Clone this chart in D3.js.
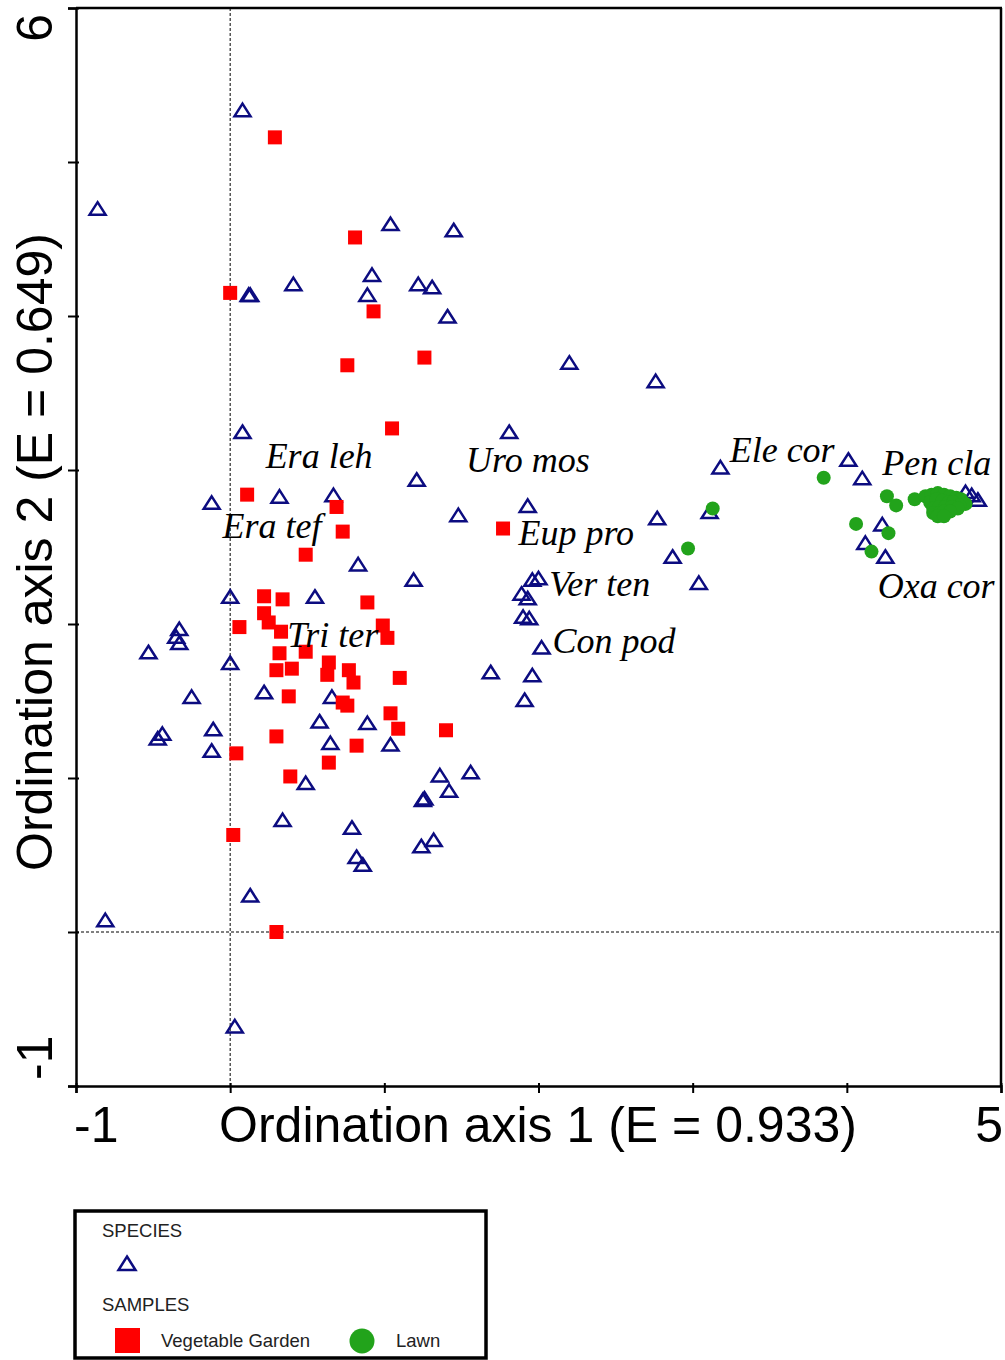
<!DOCTYPE html>
<html>
<head>
<meta charset="utf-8">
<script src="https://cdn.jsdelivr.net/npm/d3@7"></script>
<style>
  html, body { margin: 0; padding: 0; background: #fff; }
  svg { display: block; }
</style>
</head>
<body>
<svg id="chart" width="1005" height="1360"></svg>
<script>
// ---------- DATA (ordination axis units) ----------
const xTicks = [-1, 0, 1, 2, 3, 4, 5];
const yTicks = [-1, 0, 1, 2, 3, 4, 5, 6];
const xTickLabels = [[-1, "-1"], [5, "5"]];
const yTickLabels = [[-1, "-1"], [6, "6"]];
const xTitle = "Ordination axis 1 (E = 0.933)";
const yTitle = "Ordination axis 2 (E = 0.649)";

const species = [
  [0.08,5.34],[-0.86,4.70],[1.04,4.60],[1.45,4.56],[0.41,4.21],[0.12,4.14],[0.13,4.14],
  [0.92,4.27],[0.89,4.14],[1.22,4.21],[1.31,4.19],[1.41,4.00],[2.20,3.70],[2.76,3.58],
  [0.08,3.25],[1.81,3.25],[1.21,2.94],[-0.12,2.79],[0.32,2.83],[0.67,2.84],[1.48,2.71],
  [1.93,2.77],[0.83,2.39],[1.19,2.29],[0.00,2.18],[0.55,2.18],[-0.33,1.97],[-0.35,1.92],
  [-0.33,1.88],[-0.53,1.82],[0.00,1.75],[-0.25,1.53],[0.22,1.56],[0.66,1.53],[-0.47,1.26],
  [-0.44,1.29],[-0.11,1.32],[-0.12,1.18],[0.58,1.37],[0.89,1.36],[0.65,1.23],[1.04,1.22],
  [0.49,0.97],[1.36,1.02],[1.56,1.04],[1.42,0.92],[1.25,0.86],[1.26,0.87],[0.34,0.73],
  [0.79,0.68],[0.82,0.49],[0.86,0.44],[1.24,0.56],[1.32,0.60],[0.13,0.24],[-0.81,0.08],
  [0.03,-0.61],[3.18,3.02],[4.01,3.07],[4.10,2.95],[2.77,2.69],[3.11,2.73],[2.87,2.44],
  [3.04,2.27],[4.23,2.65],[4.12,2.53],[4.25,2.44],[4.77,2.86],[4.81,2.84],[4.85,2.81],
  [2.00,2.30],[1.96,2.29],[1.89,2.20],[1.93,2.17],[1.90,2.05],[1.94,2.04],[2.02,1.85],
  [1.96,1.67],[1.91,1.51],[1.69,1.69]
];

const vegetableGarden = [
  [0.29,5.16],[0.81,4.51],[0.00,4.15],[0.93,4.03],[0.76,3.68],[1.26,3.73],[1.05,3.27],
  [0.11,2.84],[0.69,2.76],[0.73,2.60],[0.49,2.45],[1.77,2.62],[0.22,2.18],[0.34,2.16],
  [0.89,2.14],[0.22,2.07],[0.25,2.01],[0.33,1.95],[0.06,1.98],[0.99,1.99],[1.02,1.91],
  [0.32,1.81],[0.49,1.82],[0.30,1.70],[0.40,1.71],[0.64,1.75],[0.63,1.67],[0.77,1.70],
  [0.80,1.62],[1.10,1.65],[0.38,1.53],[0.73,1.49],[0.76,1.47],[1.04,1.42],[1.09,1.32],
  [1.40,1.31],[0.30,1.27],[0.82,1.21],[0.04,1.16],[0.64,1.10],[0.39,1.01],[0.02,0.63],
  [0.30,0.00]
];

const lawn = [
  [3.85,2.95],[3.13,2.75],[2.97,2.49],[4.26,2.83],[4.32,2.77],[4.06,2.65],[4.27,2.59],
  [4.16,2.47],[4.44,2.81],[4.51,2.83],
  [4.55,2.84],[4.59,2.85],[4.63,2.84],[4.67,2.83],[4.71,2.82],[4.74,2.81],[4.77,2.78],
  [4.54,2.79],[4.58,2.81],[4.62,2.80],[4.66,2.79],[4.69,2.79],[4.73,2.77],
  [4.56,2.75],[4.60,2.76],[4.64,2.76],[4.68,2.76],[4.72,2.75],
  [4.56,2.72],[4.60,2.72],[4.63,2.73],[4.67,2.73],
  [4.59,2.70],[4.63,2.70]
];

const labelNames = ["Era leh","Era tef","Tri ter","Uro mos","Eup pro","Ver ten","Con pod","Ele cor","Pen cla","Oxa cor"];
const labelX =     [0.23, -0.05, 0.37, 1.53, 1.87, 2.07, 2.09, 3.24, 4.23, 4.20];
const labelY =     [3.01,  2.56, 1.85, 2.99, 2.51, 2.18, 1.81, 3.05, 2.97, 2.17];

const legendSpecies = "SPECIES";
const legendSamples = "SAMPLES";
const legendGroups = ["Vegetable Garden", "Lawn"];

// ---------- STYLE ----------
const NAVY = "#0c0c80", RED = "#ff0000", GREEN = "#22a31b";
const SANS = "'Liberation Sans', Arial, sans-serif";
const SERIF = "'Liberation Serif', 'Times New Roman', serif";

const svg = d3.select("#chart");
const x = d3.scaleLinear().domain([-1, 5]).range([76, 1001]);
const y = d3.scaleLinear().domain([-1, 6]).range([1086, 8]);

// reference lines at 0
svg.append("line")
  .attr("x1", x(0)).attr("x2", x(0)).attr("y1", y(6)).attr("y2", y(-1))
  .attr("stroke", "#000").attr("stroke-width", 1).attr("stroke-dasharray", "3,2");
svg.append("line")
  .attr("x1", x(-1)).attr("x2", x(5)).attr("y1", y(0)).attr("y2", y(0))
  .attr("stroke", "#000").attr("stroke-width", 1).attr("stroke-dasharray", "3,2");

// frame (top and right)
svg.append("line").attr("x1", x(-1)).attr("x2", x(5)+1).attr("y1", y(6)).attr("y2", y(6))
  .attr("stroke", "#000").attr("stroke-width", 2.5);
svg.append("line").attr("x1", x(5)).attr("x2", x(5)).attr("y1", y(6)).attr("y2", y(-1))
  .attr("stroke", "#000").attr("stroke-width", 2.5);

// axes
const gx = svg.append("g").attr("transform", `translate(0,${y(-1)})`)
  .call(d3.axisBottom(x).tickValues(xTicks).tickSizeOuter(0).tickSize(7).tickFormat(() => ""));
gx.select(".domain").attr("stroke-width", 2.5);
gx.selectAll(".tick line").attr("y1", -3).attr("stroke-width", 2);

const gy = svg.append("g").attr("transform", `translate(${x(-1)},0)`)
  .call(d3.axisLeft(y).tickValues(yTicks).tickSizeOuter(0).tickSize(8).tickFormat(() => ""));
gy.select(".domain").attr("stroke-width", 2.5);
gy.selectAll(".tick line").attr("x1", 3).attr("stroke-width", 2);

// tick labels (ends only)
svg.selectAll(".xlab").data(xTickLabels).enter().append("text")
  .attr("x", d => d[0] === -1 ? x(d[0]) - 2 : x(d[0]) + 2)
  .attr("y", 1142)
  .attr("text-anchor", d => d[0] === -1 ? "start" : "end")
  .attr("font-family", SANS).attr("font-size", 50).attr("fill", "#000")
  .text(d => d[1]);

svg.selectAll(".ylab").data(yTickLabels).enter().append("text")
  .attr("transform", d => `translate(52,${d[0] === 6 ? y(d[0]) + 6 : y(d[0]) - 6}) rotate(-90)`)
  .attr("text-anchor", d => d[0] === 6 ? "end" : "start")
  .attr("font-family", SANS).attr("font-size", 50).attr("fill", "#000")
  .text(d => d[1]);

// axis titles
svg.append("text").attr("x", 538).attr("y", 1142).attr("text-anchor", "middle")
  .attr("font-family", SANS).attr("font-size", 50).attr("fill", "#000").text(xTitle);
svg.append("text").attr("transform", "translate(52,552) rotate(-90)").attr("text-anchor", "middle")
  .attr("font-family", SANS).attr("font-size", 50).attr("fill", "#000").text(yTitle);

// markers
const triPath = "M0,-6L8,6.5L-8,6.5Z";
svg.append("g").selectAll("path").data(species).enter().append("path")
  .attr("d", triPath)
  .attr("transform", d => `translate(${x(d[0])},${y(d[1])})`)
  .attr("fill", "none").attr("stroke", NAVY).attr("stroke-width", 2.5);

const sq = 14;
svg.append("g").selectAll("rect").data(vegetableGarden).enter().append("rect")
  .attr("x", d => x(d[0]) - sq/2).attr("y", d => y(d[1]) - sq/2)
  .attr("width", sq).attr("height", sq).attr("fill", RED);

svg.append("g").selectAll("circle").data(lawn).enter().append("circle")
  .attr("cx", d => x(d[0])).attr("cy", d => y(d[1])).attr("r", 7).attr("fill", GREEN);

// species labels
svg.append("g").selectAll("text").data(labelNames).enter().append("text")
  .attr("x", (d, i) => x(labelX[i])).attr("y", (d, i) => y(labelY[i]))
  .attr("font-family", SERIF).attr("font-style", "italic").attr("font-size", 36).attr("fill", "#000")
  .text(d => d);

// legend
const lg = svg.append("g");
lg.append("rect").attr("x", 75).attr("y", 1211).attr("width", 411).attr("height", 147)
  .attr("fill", "#fff").attr("stroke", "#000").attr("stroke-width", 3.5);
lg.append("text").attr("x", 102).attr("y", 1237).attr("font-family", SANS).attr("font-size", 18.5)
  .attr("fill", "#222").text(legendSpecies);
lg.append("path").attr("d", "M0,-6.5L8.5,7L-8.5,7Z").attr("transform", "translate(127,1263)")
  .attr("fill", "none").attr("stroke", NAVY).attr("stroke-width", 2.5);
lg.append("text").attr("x", 102).attr("y", 1311).attr("font-family", SANS).attr("font-size", 18.5)
  .attr("fill", "#222").text(legendSamples);
lg.append("rect").attr("x", 115).attr("y", 1328).attr("width", 25).attr("height", 25).attr("fill", RED);
lg.append("text").attr("x", 161).attr("y", 1347).attr("font-family", SANS).attr("font-size", 18.5)
  .attr("fill", "#222").text(legendGroups[0]);
lg.append("circle").attr("cx", 362).attr("cy", 1341).attr("r", 12.5).attr("fill", GREEN);
lg.append("text").attr("x", 396).attr("y", 1347).attr("font-family", SANS).attr("font-size", 18.5)
  .attr("fill", "#222").text(legendGroups[1]);
</script>
</body>
</html>
